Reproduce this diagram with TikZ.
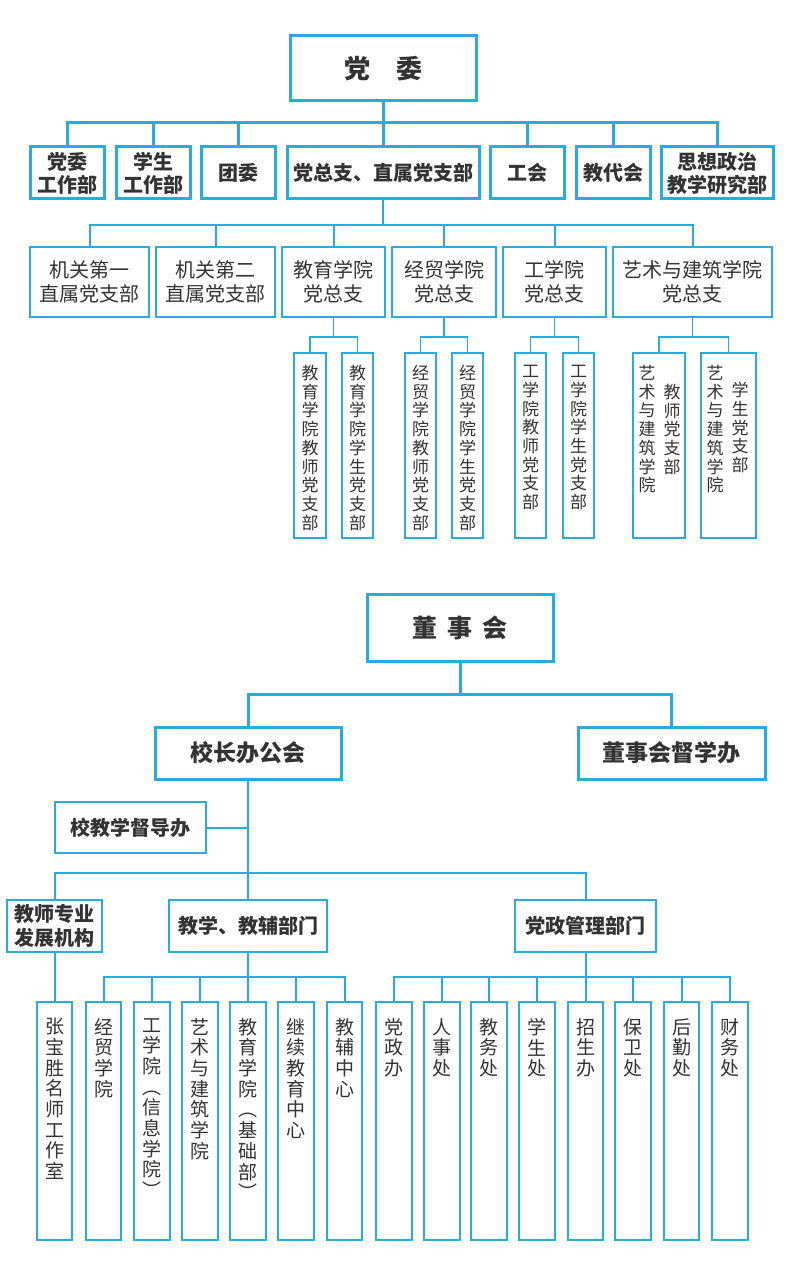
\documentclass[tikz,border=0pt]{standalone}
\usepackage{fontspec}
\setmainfont{Noto Sans CJK SC}
\definecolor{bl}{RGB}{41,171,226}
\definecolor{tx}{RGB}{51,51,51}
\ExplSyntaxOn
\NewDocumentCommand\vs{m}{\seq_set_split:Nne \l_tmpa_seq {} {#1}\seq_use:Nn \l_tmpa_seq {\\}}
\ExplSyntaxOff
\newcommand\BX[7]{\node[#2,minimum width={#5-#3-2},minimum height={#6-#4-2}] (#1) at ({(#3+#5)/2},{(#4+#6)/2}) {#7};}
\begin{document}
\begin{tikzpicture}[x=1pt,y=-1pt,line join=miter,
  bx/.style={draw=bl,line width=2pt,inner sep=0pt,text=tx,align=center},
  bxk/.style={bx,line width=3pt},
  bxs/.style={bx,line width=1.8pt},
  ln/.style={draw=bl,line width=2pt},
  lnk/.style={draw=bl,line width=3pt},
  lns/.style={draw=bl,line width=1.8pt},
  fT/.style={font=\fontsize{26}{30}\selectfont\bfseries},
  fD/.style={font=\fontsize{25}{30}\selectfont\bfseries},
  fH/.style={font=\fontsize{20}{23}\selectfont\bfseries},
  fM/.style={font=\fontsize{23}{27}\selectfont\bfseries},
  fS/.style={font=\fontsize{20}{24}\selectfont\bfseries},
  fR/.style={font=\fontsize{20}{24}\selectfont},
  vt/.style={inner sep=0pt,text=tx,align=center,anchor=north,font=\fontsize{17}{18.7}\selectfont},
  vb/.style={inner sep=0pt,text=tx,align=center,anchor=north,font=\fontsize{19}{20.7}\selectfont}]
\useasboundingbox (0,0) rectangle (800,1265);
% ---------- top: party committee ----------
\BX{dw}{bxk,fT}{289}{35}{477}{102}{党\hspace{1em}委}
\BX{r1a}{bxk,fH}{29}{146}{105}{200}{党委\\工作部}
\BX{r1b}{bxk,fH}{115}{146}{191}{200}{学生\\工作部}
\BX{r1c}{bxk,fH}{200}{146}{276}{200}{团委}
\BX{r1d}{bxk,fH}{286}{146}{480}{200}{党总支、直属党支部}
\BX{r1e}{bxk,fH}{489}{146}{565}{200}{工会}
\BX{r1f}{bxk,fH}{575}{146}{651}{200}{教代会}
\BX{r1g}{bxk,fH}{660}{146}{774}{200}{思想政治\\教学研究部}
\coordinate (b1) at (0,123);
\foreach \n in {r1a,r1b,r1c,r1d,r1e,r1f,r1g}
  \draw[lnk] (dw.south) -- (dw.south |- b1) -| (\n.north);
\BX{r2a}{bx,fR}{29}{246}{150}{318}{机关第一\\直属党支部}
\BX{r2b}{bx,fR}{155}{246}{276}{318}{机关第二\\直属党支部}
\BX{r2c}{bx,fR}{281}{246}{386}{318}{教育学院\\党总支}
\BX{r2d}{bx,fR}{391}{246}{497}{318}{经贸学院\\党总支}
\BX{r2e}{bx,fR}{502}{246}{607}{318}{工学院\\党总支}
\BX{r2f}{bx,fR}{612}{246}{773}{318}{艺术与建筑学院\\党总支}
\coordinate (b2) at (0,225);
\foreach \n in {r2a,r2b,r2c,r2d,r2e,r2f}
  \draw[ln] (r1d.south) -- (r1d.south |- b2) -| (\n.north);
% row 3
\BX{ea}{bxs}{293}{352}{327}{539}{}
\BX{eb}{bxs}{341}{352}{374}{539}{}
\BX{ja}{bxs}{404}{352}{437}{539}{}
\BX{jb}{bxs}{451}{352}{484}{539}{}
\BX{ga}{bxs}{514}{352}{547}{539}{}
\BX{gb}{bxs}{562}{352}{595}{539}{}
\BX{ya}{bxs}{632}{352}{686}{539}{}
\BX{yb}{bxs}{700}{352}{757}{539}{}
\node[vt] (ea-t) at ([yshift=-13pt]ea.north) {\vs{教育学院教师党支部}};
\node[vt] (eb-t) at ([yshift=-13pt]eb.north) {\vs{教育学院学生党支部}};
\node[vt] (ja-t) at ([yshift=-13pt]ja.north) {\vs{经贸学院教师党支部}};
\node[vt] (jb-t) at ([yshift=-13pt]jb.north) {\vs{经贸学院学生党支部}};
\node[vt] (ga-t) at ([yshift=-13pt]ga.north) {\vs{工学院教师党支部}};
\node[vt] (gb-t) at ([yshift=-13pt]gb.north) {\vs{工学院学生党支部}};
\node[vt] (ya-t) at ([xshift=-12pt,yshift=-13pt]ya.north) {\vs{艺术与建筑学院}};
\node[vt] (ya-u) at ([xshift=13pt,yshift=-32pt]ya.north) {\vs{教师党支部}};
\node[vt] (yb-t) at ([xshift=-13.5pt,yshift=-13pt]yb.north) {\vs{艺术与建筑学院}};
\node[vt] (yb-u) at ([xshift=11.5pt,yshift=-30pt]yb.north) {\vs{学生党支部}};
\coordinate (b3) at (0,337);
\foreach \p/\a/\b in {r2c/ea/eb,r2d/ja/jb,r2e/ga/gb,r2f/ya/yb}{
  \draw[lns] (\p.south) -- (\p.south |- b3) -| (\a.north);
  \draw[lns] (\p.south) -- (\p.south |- b3) -| (\b.north);}
% ---------- bottom: board ----------
\BX{dsh}{bxk,fD}{366}{593}{554}{662}{董\hspace{0.4em}事\hspace{0.4em}会}
\BX{xz}{bxk,fM}{154}{726}{342}{780}{校长办公会}
\BX{dx}{bxk,fM}{577}{726}{766}{780}{董事会督学办}
\coordinate (b4) at (0,694);
\foreach \n in {xz,dx}
  \draw[lnk] (dsh.south) -- (dsh.south |- b4) -| (\n.north);
\BX{jd}{bx,fS}{54}{801}{207}{854}{校教学督导办}
\draw[ln] (jd.east) -- (jd.east -| xz.south);
\BX{js}{bx,fS}{6}{899}{103}{953}{教师专业\\发展机构}
\BX{jx}{bx,fS}{168}{899}{328}{953}{教学、教辅部门}
\BX{dz}{bx,fS}{514}{899}{657}{953}{党政管理部门}
\coordinate (b5) at (0,873);
\foreach \n in {js,jx,dz}
  \draw[ln] (xz.south) -- (xz.south |- b5) -| (\n.north);
% bottom boxes
\BX{zb}{bx}{36}{1001}{73}{1241}{}
\draw[ln] (js.south) -- (zb.north);
\node[vb] (zb-t) at ([yshift=-17pt]zb.north) {\vs{张宝胜名师工作室}};
\coordinate (b6) at (0,977);
\foreach \n/\xa/\xb/\t in {c1/85/122/经贸学院,c2/133/171/工学院︵信息学院︶,c3/181/219/艺术与建筑学院,c4/229/267/教育学院︵基础部︶,c5/277/315/继续教育中心,c6/326/363/教辅中心}{
  \BX{\n}{bx}{\xa}{1001}{\xb}{1241}{}
  \node[vb] (\n-t) at ([yshift=-17pt]\n.north) {\vs{\t}};
  \draw[ln] (jx.south) -- (jx.south |- b6) -| (\n.north);}
\foreach \n/\xa/\xb/\t in {d1/375/413/党政办,d2/423/461/人事处,d3/470/508/教务处,d4/518/556/学生处,d5/567/604/招生办,d6/614/652/保卫处,d7/663/700/后勤处,d8/711/749/财务处}{
  \BX{\n}{bx}{\xa}{1001}{\xb}{1241}{}
  \node[vb] (\n-t) at ([yshift=-17pt]\n.north) {\vs{\t}};
  \draw[ln] (dz.south) -- (dz.south |- b6) -| (\n.north);}
\end{tikzpicture}
\end{document}
